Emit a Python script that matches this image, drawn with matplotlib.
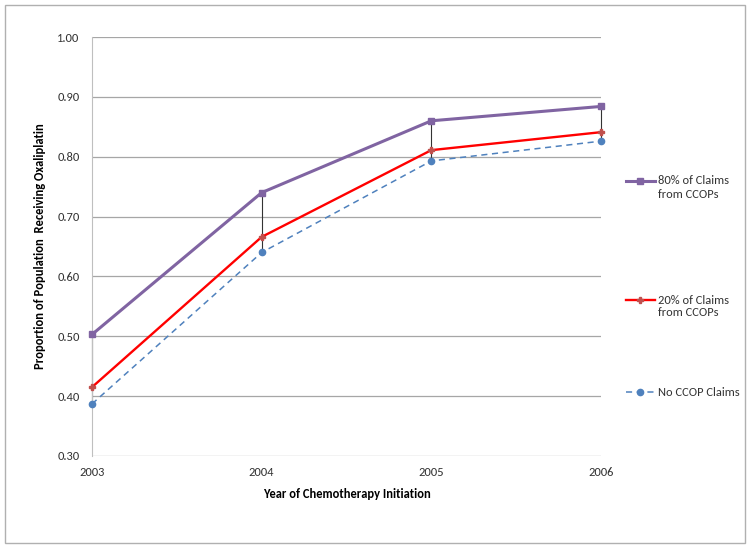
import matplotlib.pyplot as plt
from matplotlib.patches import Rectangle
from matplotlib.lines import Line2D
from matplotlib import font_manager

installed = {f.name for f in font_manager.fontManager.ttflist}
main_font = next(n for n in ['Carlito', 'Barlow Semi Condensed', 'Asap Condensed', 'Liberation Sans']
                 if n in installed)
plt.rcParams['font.family'] = [main_font, 'DejaVu Sans']

years = [2003, 2004, 2005, 2006]
ccop80 = [0.503, 0.740, 0.860, 0.884]
ccop20 = [0.415, 0.666, 0.811, 0.841]
no_ccop = [0.387, 0.640, 0.793, 0.826]
labels = ['80% of Claims\nfrom CCOPs', '20% of Claims\nfrom CCOPs', 'No CCOP Claims']
yticks = [0.30, 0.40, 0.50, 0.60, 0.70, 0.80, 0.90, 1.00]

W, H = 751, 548
fig = plt.figure(figsize=(W / 100, H / 100), dpi=100)
fig.patches.append(Rectangle((5 / W, 5 / H), 740 / W, 538 / H, transform=fig.transFigure,
                             fill=False, edgecolor='#b0b0b0', linewidth=1))

ax = fig.add_axes([92 / W, 1 - 456 / H, 509 / W, 419 / H])

# high-low lines
hi = [max(v) for v in zip(ccop80, ccop20, no_ccop)]
lo = [min(v) for v in zip(ccop80, ccop20, no_ccop)]
ax.vlines(years, lo, hi, colors='#333333', linewidth=0.8, zorder=2, clip_on=False)

styles = [
    dict(color='#8064A2', linewidth=2.2, marker='s', markersize=5),
    dict(color='#FF0000', linewidth=1.7, marker='P', markersize=4,
         markerfacecolor='#C0504D', markeredgecolor='#C0504D'),
    dict(color='#4F81BD', linewidth=1.1, linestyle=(0, (4, 3)), marker='o', markersize=4.5),
]
for vals, st, z in zip([ccop80, ccop20, no_ccop], styles, [4, 4, 3]):
    ax.plot(years, vals, zorder=z, clip_on=False, **st)

ax.set_xlim(2003, 2006)
ax.set_ylim(0.30, 1.00)
ax.set_xticks(years)
ax.set_xticklabels([str(y) for y in years])
ax.set_yticks(yticks)
ax.set_yticklabels(['%.2f' % t for t in yticks])
ax.yaxis.grid(True, color='#a6a6a6', linewidth=0.9)
ax.set_axisbelow(True)
for s in ['top', 'right', 'bottom']:
    ax.spines[s].set_visible(False)
ax.spines['left'].set_color('#bfbfbf')
ax.tick_params(axis='both', length=0, labelsize=9, colors='#333333', pad=9)
ax.tick_params(axis='x', pad=8)

ax.set_xlabel('Year of Chemotherapy Initiation', fontsize=9, fontweight='bold', labelpad=7)
ax.set_ylabel('Proportion of Population  Receiving Oxaliplatin', fontsize=9,
              fontweight='bold', labelpad=8)

# legend entries placed like the Excel layout, marker on the first text line
for st, lab, ypx in zip(styles, labels, [181, 300, 392]):
    y = 1 - ypx / H
    fig.lines.append(Line2D([626 / W, 655 / W], [y, y], transform=fig.transFigure,
                            markevery=[], **st))
    fig.lines.append(Line2D([640 / W], [y], transform=fig.transFigure, **st))
    for i, part in enumerate(lab.split('\n')):
        fig.text(658 / W, 1 - (ypx + 13 * i) / H, part, fontsize=9, va='center',
                 ha='left', color='#333333')

fig.savefig('out.png', dpi=100)
